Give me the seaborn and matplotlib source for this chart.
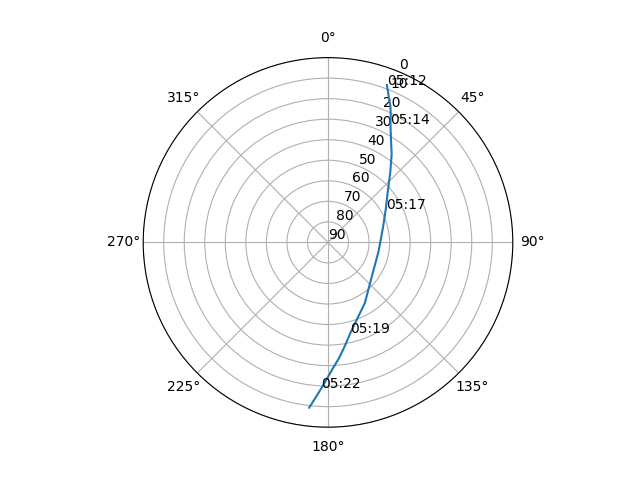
import numpy as np
import pandas as pd
import seaborn as sns
import matplotlib
matplotlib.use("Agg")
import matplotlib.pyplot as plt

# satellite pass, one sample every 30 s
times = pd.date_range("2024-01-01 05:12:00", periods=24, freq="30s")
azimuth = [20.5, 21.5, 22.8, 24.6, 26.2, 27.8, 31.0, 35.8, 41.6, 49.5,
           60.0, 76.0, 100.0, 125.0, 148.6, 166.0, 170.7, 174.4, 177.8, 180.4,
           182.6, 184.0, 185.3, 186.5]
elevation = [8.2, 10.5, 13.5, 17.0, 20.8, 24.8, 30.5, 37.0, 44.3, 51.7,
             57.5, 62.5, 65.0, 63.5, 55.5, 44.7, 39.0, 33.6, 28.6, 23.7,
             18.9, 15.6, 12.3, 9.0]
label_every = 5

df = pd.DataFrame({"time": times, "az": np.radians(azimuth), "el": elevation})

fig = plt.figure(figsize=(6.4, 4.8), dpi=100)
ax = fig.add_subplot(111, projection="polar")
ax.set_theta_zero_location("N")
ax.set_theta_direction(-1)

sns.lineplot(data=df, x="az", y="el", ax=ax, sort=False)

# time labels along the track
for i in range(0, len(df), label_every):
    ax.text(df["az"][i], df["el"][i], df["time"][i].strftime("%H:%M"))

ax.set_rlim(90, 0)
ax.set_yticks(range(0, 91, 10))
ax.set_xlabel("")
ax.set_ylabel("")

fig.savefig("out.png")
